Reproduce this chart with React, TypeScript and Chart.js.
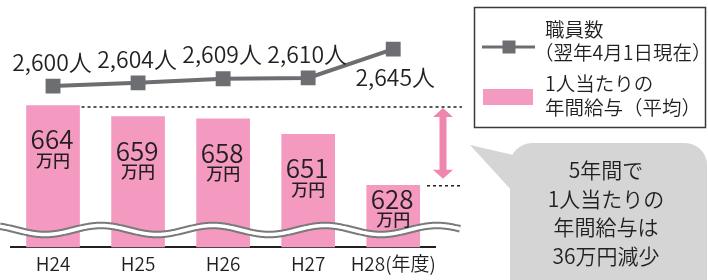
import React, { useEffect, useRef } from "react";
import { Chart, registerables } from "chart.js";

Chart.register(...registerables);

// ---- data ----
const categories = ["H24", "H25", "H26", "H27", "H28(年度)"];
const salary = [664, 659, 658, 651, 628];
const staff = [2600, 2604, 2609, 2610, 2645];
const salaryUnit = "万円";
const staffUnit = "人";
const staffLegend = ["職員数", "（翌年4月1日現在）"];
const salaryLegend = ["1人当たりの", "年間給与（平均）"];
const calloutLines = ["5年間で", "1人当たりの", "年間給与は", "36万円減少"];

// ---- styles ----
const FONT = '"Noto Sans CJK JP", "Noto Sans", sans-serif';
const TEXT = "#231f20";
const PINK = "#f49ac1";
const ARROW_PINK = "#ef86b0";
const GRAY = "#6d6e71";
const BUBBLE = "#d5d5d5";
const W = "350";

const overlay = {
  id: "overlay",
  afterDatasetsDraw(chart: any) {
    const ctx: CanvasRenderingContext2D = chart.ctx;
    const ys = chart.scales.y;
    const barMeta = chart.getDatasetMeta(0);
    const lineMeta = chart.getDatasetMeta(1);
    ctx.save();

    // wave break
    const waveY = 230, amp = 4.5, period = 112, phase = 45;
    ctx.beginPath();
    for (let x = 0; x <= 460; x += 1) {
      const y = waveY + amp * Math.cos((2 * Math.PI * (x - phase)) / period);
      if (x === 0) ctx.moveTo(x, y);
      else ctx.lineTo(x, y);
    }
    ctx.strokeStyle = "#7a7a7a";
    ctx.lineWidth = 7.5;
    ctx.stroke();
    ctx.strokeStyle = "#ffffff";
    ctx.lineWidth = 3.5;
    ctx.stroke();

    // bar labels
    ctx.fillStyle = TEXT;
    ctx.textAlign = "center";
    ctx.textBaseline = "middle";
    barMeta.data.forEach((bar: any, i: number) => {
      const numY = Math.min(bar.y + 34, waveY - 31);
      ctx.font = `${W} 26px ${FONT}`;
      ctx.fillText(String(salary[i]), bar.x - 1, numY);
      ctx.font = `500 17px ${FONT}`;
      ctx.fillText(salaryUnit, bar.x, numY + 21);
    });

    // line labels
    lineMeta.data.forEach((pt: any, i: number) => {
      const below = i === staff.length - 1;
      ctx.font = `${W} 23px ${FONT}`;
      ctx.fillText(
        staff[i].toLocaleString("en-US") + staffUnit,
        pt.x + (below ? 2 : -1),
        below ? pt.y + 28 : pt.y - 24
      );
    });

    // dotted reference lines
    const maxV = Math.max(...salary);
    const minV = Math.min(...salary);
    const topY = ys.getPixelForValue(maxV) + 1.5;
    const botY = ys.getPixelForValue(minV) + 0.5;
    const maxBar = barMeta.data[salary.indexOf(maxV)];
    ctx.setLineDash([3, 3]);
    ctx.lineWidth = 1.5;
    ctx.strokeStyle = TEXT;
    ctx.beginPath();
    ctx.moveTo(maxBar.x + maxBar.width / 2 + 2, topY);
    ctx.lineTo(462, topY);
    ctx.moveTo(427, botY);
    ctx.lineTo(462, botY);
    ctx.stroke();
    ctx.setLineDash([]);

    // double arrow
    const ax = 443, headW = 10, headH = 9, shaft = 3.5;
    const t = topY + 1, b = botY - 7;
    ctx.fillStyle = ARROW_PINK;
    ctx.beginPath();
    ctx.moveTo(ax, t);
    ctx.lineTo(ax + headW, t + headH);
    ctx.lineTo(ax + shaft, t + headH);
    ctx.lineTo(ax + shaft, b - headH);
    ctx.lineTo(ax + headW, b - headH);
    ctx.lineTo(ax, b);
    ctx.lineTo(ax - headW, b - headH);
    ctx.lineTo(ax - shaft, b - headH);
    ctx.lineTo(ax - shaft, t + headH);
    ctx.lineTo(ax - headW, t + headH);
    ctx.closePath();
    ctx.fill();

    // legend box
    ctx.strokeStyle = "#3a3a3a";
    ctx.lineWidth = 1.5;
    ctx.strokeRect(474.5, 7.5, 231, 120);
    ctx.strokeStyle = GRAY;
    ctx.lineWidth = 3;
    ctx.beginPath();
    ctx.moveTo(482, 47);
    ctx.lineTo(535, 47);
    ctx.stroke();
    ctx.fillStyle = GRAY;
    ctx.fillRect(502.5, 40.5, 13, 13);
    ctx.fillStyle = PINK;
    ctx.fillRect(483, 89, 50, 16);

    ctx.fillStyle = TEXT;
    ctx.textAlign = "left";
    ctx.font = `${W} 19.5px ${FONT}`;
    const legendLines = [...staffLegend, ...salaryLegend];
    const legendYs = [30, 52.5, 84, 108];
    legendLines.forEach((s, i) => {
      const x = s.startsWith("（") ? 545 - 11 : 545;
      ctx.fillText(s, x, legendYs[i]);
    });

    // callout bubble
    ctx.fillStyle = BUBBLE;
    ctx.beginPath();
    ctx.moveTo(470, 145);
    ctx.lineTo(522, 157);
    ctx.lineTo(513, 192);
    ctx.closePath();
    ctx.fill();
    ctx.beginPath();
    (ctx as any).roundRect(510, 143, 197, 160, 22);
    ctx.fill();

    ctx.fillStyle = TEXT;
    ctx.textAlign = "center";
    ctx.font = `${W} 21px ${FONT}`;
    calloutLines.forEach((s, i) => {
      ctx.fillText(s, 606, 170 + i * 28.7);
    });

    ctx.restore();
  },
};

export default function App() {
  const canvasRef = useRef<HTMLCanvasElement | null>(null);

  useEffect(() => {
    if (!canvasRef.current) return;
    const chart = new Chart(canvasRef.current, {
      type: "bar",
      data: {
        labels: categories,
        datasets: [
          {
            type: "bar",
            label: salaryLegend.join(""),
            data: salary,
            backgroundColor: PINK,
            borderWidth: 0,
            barThickness: 53,
            yAxisID: "y",
            order: 2,
          },
          {
            type: "line",
            label: staffLegend.join(""),
            data: staff,
            borderColor: GRAY,
            borderWidth: 4,
            backgroundColor: GRAY,
            pointStyle: "rect",
            pointRadius: 10.5,
            pointBorderWidth: 0,
            pointBackgroundColor: GRAY,
            tension: 0,
            yAxisID: "y2",
            order: 1,
          },
        ],
      },
      options: {
        responsive: false,
        animation: false,
        layout: { padding: { left: 3.25, right: 272.25, top: 10, bottom: 0 } },
        plugins: {
          legend: { display: false },
          tooltip: { enabled: false },
        },
        scales: {
          x: {
            grid: { display: false, drawTicks: false },
            border: { display: true, color: TEXT, width: 2 },
            ticks: {
              color: TEXT,
              font: { family: FONT, size: 19, weight: W },
              padding: 5,
              maxRotation: 0,
              autoSkip: false,
            },
          },
          y: { display: false, min: 600, max: 707 },
          y2: { display: false, min: 2404, max: 2692 },
        },
      },
      plugins: [overlay],
    });
    return () => chart.destroy();
  }, []);

  return (
    <div style={{ position: "absolute", left: 0, top: 0, width: 708, height: 280, background: "#fff" }}>
      <canvas ref={canvasRef} width={708} height={280} style={{ display: "block" }} />
    </div>
  );
}
